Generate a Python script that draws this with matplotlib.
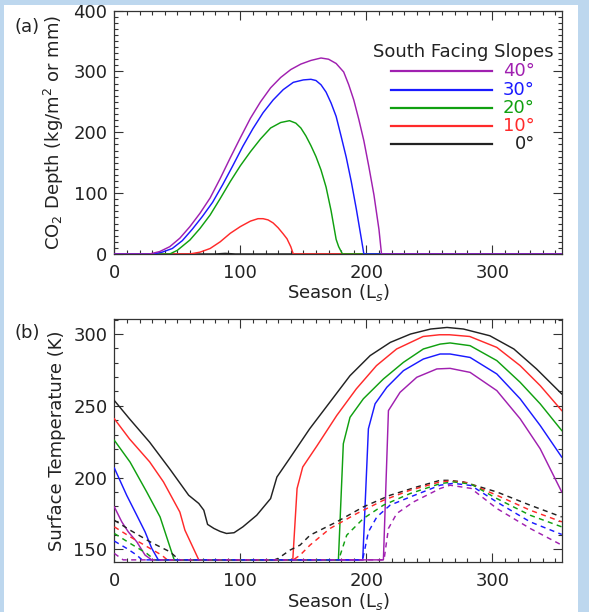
import matplotlib.pyplot as plt
from matplotlib.patches import Rectangle
from matplotlib.ticker import MultipleLocator

# ---- panel (a): CO2 frost depth vs season, south facing slopes ----
ls_a_0 = [0, 80, 88, 96, 355]
co2_0 = [0, 0, 1, 0, 0]
ls_a_10 = [0, 60, 68, 76, 84, 92, 100, 108, 114, 118, 122, 126, 130, 134, 137, 140, 142, 355]
co2_10 = [0, 0, 3, 9, 20, 34, 45, 54, 58, 58, 56, 51, 43, 33, 25, 12, 0, 0]
ls_a_20 = [0, 44, 50, 60, 68, 76, 84, 92, 100, 108, 116, 124, 132, 139, 144, 148, 152,
           156, 160, 164, 168, 172, 176, 178, 181, 355]
co2_20 = [0, 0, 6, 23, 42, 64, 91, 119, 145, 168, 189, 207, 216, 219, 215, 207, 194,
          178, 160, 138, 110, 71, 24, 12, 0, 0]
ls_a_30 = [0, 31, 38, 46, 54, 62, 70, 78, 86, 94, 102, 110, 118, 126, 134, 142, 150, 156,
           160, 164, 168, 172, 176, 180, 184, 188, 192, 196, 198, 355]
co2_30 = [0, 0, 3, 9, 22, 41, 62, 85, 114, 145, 177, 206, 232, 253, 270, 282, 286, 287,
          285, 278, 266, 248, 226, 193, 159, 119, 74, 25, 0, 0]
ls_a_40 = [0, 28, 36, 44, 52, 60, 68, 76, 84, 92, 100, 108, 116, 124, 132, 140, 148, 156,
           164, 170, 176, 182, 186, 190, 194, 198, 202, 206, 210, 212, 355]
co2_40 = [0, 0, 4, 12, 26, 45, 67, 92, 124, 158, 191, 223, 250, 273, 290, 303, 312, 318,
          322, 320, 313, 299, 278, 253, 221, 186, 143, 97, 40, 0, 0]

# ---- panel (b): surface temperature (solid) and dashed companion curves ----
ls_b_0 = [0, 12, 28, 44, 59, 67, 71, 74, 79, 84, 89, 95, 102, 113, 124, 129, 139, 147,
          155, 171, 187, 203, 219, 235, 251, 264, 277, 298, 317, 335, 355]
t_0 = [253.7, 241, 224.7, 206, 187.7, 182, 177.3, 167.4, 164.6, 162.5, 161.1, 161.6,
       165.7, 173.8, 185.4, 200.4, 213.2, 223.6, 234, 252.5, 271, 285, 294.2, 300,
       303.5, 304.6, 303.5, 298.8, 289.6, 275.7, 258.3]
ls_b_10 = [0, 12, 28, 39, 52, 56, 67, 141.6, 145, 149.5, 161, 176.5, 192, 208, 224, 245,
           258, 266, 282, 303.5, 322, 338, 355]
t_10 = [241, 227, 211, 197, 176, 163.4, 142.7, 142.7, 192.4, 207.4, 222.4, 243.3, 261.8,
        278, 289.6, 298.3, 299.5, 299.5, 298.3, 290.7, 278, 264, 246.7]
ls_b_20 = [0, 12.5, 25.7, 36.3, 47.5, 177.8, 181.7, 187, 197.6, 213.5, 229.4, 245.2,
           258.5, 266.4, 282.3, 303.5, 322, 337.9, 355]
t_20 = [226, 210.8, 190, 172.6, 142.7, 142.7, 223.6, 242, 254.9, 268.7, 280.3, 289.6,
        293, 293.8, 291.9, 281.5, 266.4, 251.4, 232.8]
ls_b_30 = [0, 9.8, 17.8, 24.4, 29.7, 34.9, 197.1, 201.6, 206.9, 216.2, 229.4, 245.2,
           258.5, 266.4, 282.3, 303.5, 322, 337.9, 355]
t_30 = [206.7, 187.7, 173.8, 162.2, 150.7, 142.7, 142.7, 234, 251.4, 262.9, 274.5, 282.6,
        286.1, 286.1, 283.7, 272.2, 254.9, 236.3, 214.3]
ls_b_40 = [0, 5.9, 11.1, 17.8, 24.4, 29.7, 213.5, 217.5, 226.7, 240, 255.9, 266.4, 282.3,
           303.5, 322, 337.9, 355]
t_40 = [179.6, 169.2, 162.2, 155.3, 146, 142.7, 142.7, 246.7, 259.4, 269.9, 275.7, 276.1,
        273.3, 260.6, 241, 220.1, 190]

ls_d_0 = [0, 12.5, 28.3, 44.2, 49.5, 52, 127, 130.2, 139.4, 147.4, 155.3, 176.5, 197.6,
          218.8, 240, 258.5, 265, 277, 303.5, 329.9, 355]
td_0 = [170.3, 163.4, 155.3, 148.3, 144.2, 142.7, 142.7, 143.8, 149.5, 153, 159.9, 169.2,
        179.6, 187.7, 193.5, 198.1, 198.1, 197, 190, 180.8, 172.6]
ls_d_10 = [0, 12.5, 28.3, 37.6, 42, 142, 147.4, 155.3, 171.2, 192.4, 213.5, 234.7, 258.5,
           266.4, 280, 303.5, 329.9, 355]
td_10 = [165.7, 158.8, 150.7, 146, 142.7, 142.7, 146, 153, 164.6, 175, 184.2, 191.2, 197,
         197.6, 196.5, 187.7, 177.3, 169.2]
ls_d_20 = [0, 12.5, 25.7, 32, 178, 184.4, 197.6, 213.5, 234.7, 258.5, 269, 283, 303.5,
           329.9, 355]
td_20 = [161.1, 154.2, 147.2, 142.7, 142.7, 159.9, 171.5, 180.8, 188.9, 195.8, 197, 195.5,
         185.4, 173.8, 165.7]
ls_d_30 = [0, 9.8, 17.8, 22, 197, 201.6, 208.3, 218.8, 234.7, 258.5, 269, 283, 303.5,
           329.9, 355]
td_30 = [155.8, 150.7, 146, 142.7, 142.7, 162.2, 172.6, 180.8, 186.5, 194.7, 196, 194.5,
         183, 169.2, 160.4]
ls_d_40 = [0, 7, 214, 217.5, 224.1, 237.3, 258.5, 266.4, 283, 303.5, 329.9, 355]
td_40 = [147.2, 142.7, 142.7, 164.6, 175, 183, 192.4, 194.7, 192.5, 178.5, 164.6, 153]

slopes = ["0°", "10°", "20°", "30°", "40°"]
colors = ["#222222", "#ff2a2a", "#10a010", "#1a1aff", "#a020b0"]

fig = plt.figure(figsize=(5.89, 6.12), dpi=100, facecolor="#bdd7ee")
fig.patches.append(Rectangle((4 / 589, 0), 574 / 589, 1 - 5 / 612, transform=fig.transFigure,
                             facecolor="white", edgecolor="none", zorder=-10))

ax1 = fig.add_axes([0.1941, 0.585, 0.7596, 0.3978])
ax2 = fig.add_axes([0.1941, 0.0812, 0.7596, 0.3976])

fs = 13
for ax in (ax1, ax2):
    ax.set_xlim(0, 355)
    ax.xaxis.set_major_locator(MultipleLocator(100))
    ax.xaxis.set_minor_locator(MultipleLocator(10))
    ax.tick_params(which="both", direction="in", top=True, right=True,
                   color="#333333", labelcolor="#222222", labelsize=fs, width=0.8)
    ax.tick_params(which="major", length=6.5)
    ax.tick_params(which="minor", length=3.2)
    ax.tick_params(axis="x", pad=7)
    ax.tick_params(axis="y", pad=5)
    for sp in ax.spines.values():
        sp.set_color("#333333")
        sp.set_linewidth(0.9)
        sp.set_zorder(1)
    ax.set_xlabel("Season (L$_s$)", fontsize=fs, labelpad=0.5, color="#222222")

# panel (a)
a_x = [ls_a_0, ls_a_10, ls_a_20, ls_a_30, ls_a_40]
a_y = [co2_0, co2_10, co2_20, co2_30, co2_40]
for x, y, c in zip(a_x, a_y, colors):
    ax1.plot(x, y, color=c, lw=1.05, zorder=2)
ax1.set_ylim(0, 400)
ax1.yaxis.set_major_locator(MultipleLocator(100))
ax1.yaxis.set_minor_locator(MultipleLocator(10))
ax1.set_ylabel("CO$_2$ Depth (kg/m$^2$ or mm)", fontsize=fs, labelpad=5, color="#222222")

# legend drawn by hand, IDL style
ax1.text(0.981, 0.831, "South Facing Slopes", transform=ax1.transAxes, ha="right",
         va="center", fontsize=fs, color="#222222")
leg_y = [0.4505, 0.526, 0.601, 0.6735, 0.7515]
for s, c, yy in zip(slopes, colors, leg_y):
    ax1.plot([0.618, 0.8435], [yy, yy], transform=ax1.transAxes, color=c, lw=1.6)
    ax1.text(0.94, yy, s, transform=ax1.transAxes, ha="right", va="center",
             fontsize=fs, color=c)

# panel (b)
b_x = [ls_b_0, ls_b_10, ls_b_20, ls_b_30, ls_b_40]
b_y = [t_0, t_10, t_20, t_30, t_40]
d_x = [ls_d_0, ls_d_10, ls_d_20, ls_d_30, ls_d_40]
d_y = [td_0, td_10, td_20, td_30, td_40]
for x, y, c in zip(b_x, b_y, colors):
    ax2.plot(x, y, color=c, lw=1.05, zorder=2)
for x, y, c in zip(d_x, d_y, colors):
    ax2.plot(x, y, color=c, lw=1.05, ls=(0, (3.5, 3)), zorder=3)
ax2.set_ylim(141, 310.5)
ax2.yaxis.set_major_locator(MultipleLocator(50))
ax2.yaxis.set_minor_locator(MultipleLocator(10))
ax2.set_ylabel("Surface Temperature (K)", fontsize=fs, labelpad=5, color="#222222")

fig.text(27 / 589, 1 - 27 / 612, "(a)", fontsize=fs, ha="center", va="center", color="#222222")
fig.text(27 / 589, 1 - 333 / 612, "(b)", fontsize=fs, ha="center", va="center", color="#222222")

fig.savefig("out.png", dpi=100, facecolor=fig.get_facecolor())
